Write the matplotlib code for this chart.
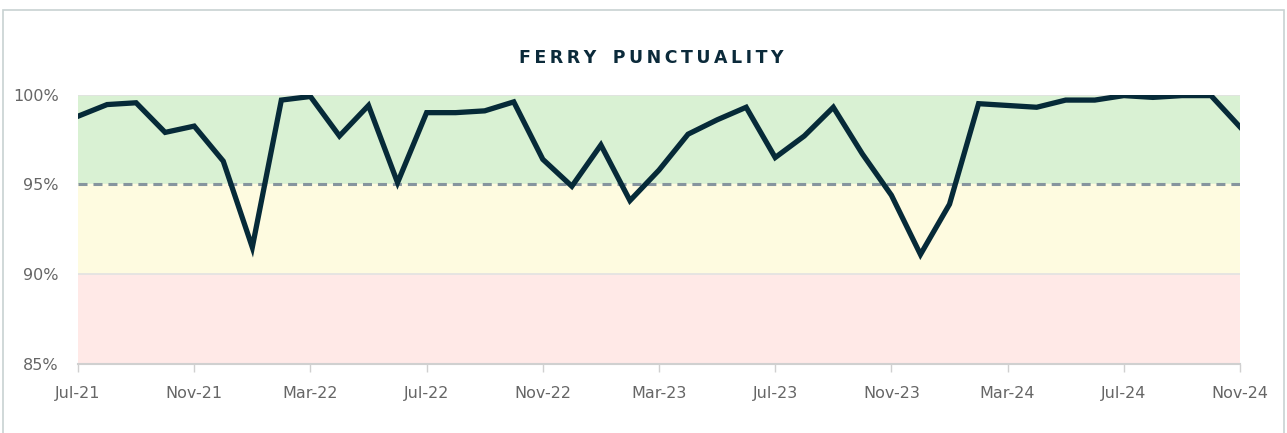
import matplotlib.pyplot as plt
from matplotlib.patches import Rectangle

# Monthly ferry punctuality, Jul-21 .. Nov-24
months = ['Jul-21', 'Aug-21', 'Sep-21', 'Oct-21', 'Nov-21', 'Dec-21', 'Jan-22', 'Feb-22',
          'Mar-22', 'Apr-22', 'May-22', 'Jun-22', 'Jul-22', 'Aug-22', 'Sep-22', 'Oct-22',
          'Nov-22', 'Dec-22', 'Jan-23', 'Feb-23', 'Mar-23', 'Apr-23', 'May-23', 'Jun-23',
          'Jul-23', 'Aug-23', 'Sep-23', 'Oct-23', 'Nov-23', 'Dec-23', 'Jan-24', 'Feb-24',
          'Mar-24', 'Apr-24', 'May-24', 'Jun-24', 'Jul-24', 'Aug-24', 'Sep-24', 'Oct-24',
          'Nov-24']
punctuality = [98.8, 99.45, 99.55, 97.9, 98.25, 96.3, 91.5, 99.7, 99.9, 97.7,
               99.4, 95.1, 99.0, 99.0, 99.1, 99.6, 96.4, 94.9, 97.2, 94.1,
               95.8, 97.8, 98.6, 99.3, 96.5, 97.7, 99.3, 96.7, 94.4, 91.1,
               93.9, 99.5, 99.4, 99.3, 99.7, 99.7, 99.95, 99.85, 99.95, 99.95,
               98.2]
target = 95
tick_labels = ['Jul-21', 'Nov-21', 'Mar-22', 'Jul-22', 'Nov-22', 'Mar-23',
               'Jul-23', 'Nov-23', 'Mar-24', 'Jul-24', 'Nov-24']
title = 'FERRY PUNCTUALITY'

fig = plt.figure(figsize=(12.87, 4.33), dpi=100)
ax = fig.add_axes([0.0606, 0.1594, 0.9029, 0.6219])

x = list(range(len(months)))

# background bands
ax.axhspan(95, 100, color='#d9f1d3', zorder=0)
ax.axhspan(90, 95, color='#fefbe0', zorder=0)
ax.axhspan(85, 90, color='#ffe9e7', zorder=0)
for yv in [90, 100]:
    ax.axhline(yv, color='#e2e2e2', lw=1.2, zorder=1)

ax.axhline(target, color='#86959e', lw=2.2, ls=(0, (2.95, 1.95)), zorder=2)
ax.plot(x, punctuality, color='#062a38', lw=3.8, solid_joinstyle='miter', zorder=3)

ax.set_xlim(0, len(months) - 1)
ax.set_ylim(85, 100)
ax.set_yticks([85, 90, 95, 100])
ax.set_yticklabels(['85%', '90%', '95%', '100%'])
ax.set_xticks([months.index(m) for m in tick_labels])
ax.set_xticklabels(tick_labels)

for s in ['top', 'right', 'left']:
    ax.spines[s].set_visible(False)
ax.spines['bottom'].set_color('#d0d0d0')
ax.spines['bottom'].set_linewidth(1.5)
ax.tick_params(axis='y', length=0, pad=14, labelsize=11.5, labelcolor='#666666')
ax.tick_params(axis='x', length=6, width=1, color='#d0d0d0', pad=10,
               labelsize=11.5, labelcolor='#666666')

# letter-spaced title
spaced = '\u2009'.join(title).replace('\u2009 \u2009', '\u2009 \u2009\u2009')
fig.text(0.506, 0.866, spaced, ha='center', va='center', fontsize=12.5,
         fontweight='bold', color='#0b2a3a')

# outer border
fig.patches.append(Rectangle((3 / 1287, -0.01), 1281 / 1287, 1 - 10 / 433 + 0.01,
                             transform=fig.transFigure, fill=False,
                             edgecolor='#c8d2d2', lw=1.2))

plt.savefig('out.png', dpi=100)
